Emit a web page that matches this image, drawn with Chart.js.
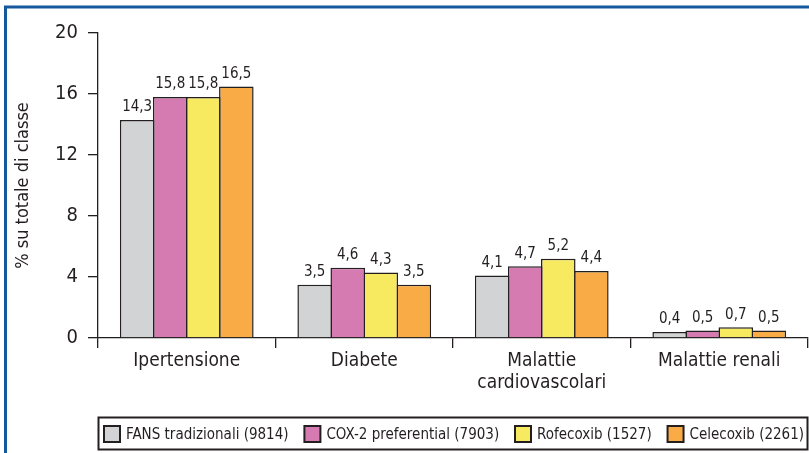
<!DOCTYPE html>
<html>
<head>
<meta charset="utf-8">
<script src="https://cdn.jsdelivr.net/npm/chart.js@4.4.1/dist/chart.umd.min.js"></script>
<style>
  html, body { margin: 0; padding: 0; background: #fff; }
  #wrap { width: 809px; height: 453px; }
</style>
</head>
<body>
<div id="wrap"><canvas id="chart" width="809" height="453"></canvas></div>
<script>
// categories on the x axis
const categories = ["Ipertensione", "Diabete", ["Malattie", "cardiovascolari"], "Malattie renali"];

// percentages per class of drug
const fansTradizionali = [14.3, 3.5, 4.1, 0.4];
const cox2Preferential = [15.8, 4.6, 4.7, 0.5];
const rofecoxib = [15.8, 4.3, 5.2, 0.7];
const celecoxib = [16.5, 3.5, 4.4, 0.5];

const seriesNames = ["FANS tradizionali (9814)", "COX-2 preferential (7903)", "Rofecoxib (1527)", "Celecoxib (2261)"];
const seriesColors = ["#d1d3d4", "#d67bb2", "#f7ea60", "#f9ab45"];

const yTicks = [0, 4, 8, 12, 16, 20];

const FONT = "'Liberation Sans Narrow', 'DejaVu Sans Condensed', 'Liberation Sans', sans-serif";
const INK = "#231f20";

const canvasRef = document.getElementById("chart");

// white page and the blue frame around it
const framePlugin = {
  id: "frame",
  beforeDraw(chart) {
    const ctx = chart.ctx;
    ctx.save();
    ctx.fillStyle = "#fff";
    ctx.fillRect(0, 0, chart.width, chart.height);
    ctx.restore();
  },
  afterDraw(chart) {
    const ctx = chart.ctx;
    ctx.save();
    ctx.strokeStyle = "#15599c";
    ctx.lineWidth = 3;
    ctx.beginPath();
    ctx.moveTo(5.5, chart.height);
    ctx.lineTo(5.5, 7);
    ctx.lineTo(chart.width, 7);
    ctx.stroke();
    ctx.restore();
  }
};

// value printed over each bar, with a decimal comma
const valueLabels = {
  id: "valueLabels",
  afterDatasetsDraw(chart) {
    const ctx = chart.ctx;
    ctx.save();
    ctx.font = "15px " + FONT;
    ctx.fillStyle = INK;
    ctx.textAlign = "center";
    ctx.textBaseline = "bottom";
    chart.data.datasets.forEach(function (ds, i) {
      chart.getDatasetMeta(i).data.forEach(function (bar, j) {
        ctx.fillText(ds.data[j].toFixed(1).replace(".", ","), bar.x, bar.y - 5);
      });
    });
    ctx.restore();
  }
};

// boxed legend along the bottom
const boxLegend = {
  id: "boxLegend",
  afterDraw(chart) {
    const ctx = chart.ctx;
    const left = chart.chartArea.left;
    const right = chart.width - 1;
    const top = 417, h = 32;
    ctx.save();
    ctx.strokeStyle = INK;
    ctx.lineWidth = 2;
    ctx.strokeRect(left + 0.5, top + 0.5, right - left - 1, h);

    ctx.font = "15px " + FONT;
    const sw = 16, gapText = 6;
    const widths = chart.data.datasets.map(ds => ctx.measureText(ds.label).width);
    const inner = widths.reduce((a, w) => a + sw + gapText + w, 0);
    const startX = left + 6, endX = right - 4;
    const gap = (endX - startX - inner) / (widths.length - 1);
    let x = startX;
    const cy = top + h / 2 + 1;
    chart.data.datasets.forEach(function (ds, i) {
      ctx.fillStyle = ds.backgroundColor;
      ctx.fillRect(x, cy - sw / 2, sw, sw);
      ctx.lineWidth = 2;
      ctx.strokeRect(x, cy - sw / 2, sw, sw);
      ctx.fillStyle = INK;
      ctx.textBaseline = "middle";
      ctx.textAlign = "left";
      ctx.fillText(ds.label, x + sw + gapText, cy + 1);
      x += sw + gapText + widths[i] + gap;
    });
    ctx.restore();
  }
};

const seriesData = [fansTradizionali, cox2Preferential, rofecoxib, celecoxib];

let myChart = new Chart(canvasRef, {
  type: "bar",
  data: {
    labels: categories,
    datasets: seriesData.map(function (d, i) {
      return {
        label: seriesNames[i],
        data: d,
        backgroundColor: seriesColors[i],
        borderColor: INK,
        borderWidth: 1.5,
        // bars overlap by one border so neighbours share an edge
        categoryPercentage: 0.745,
        barPercentage: 1.045
      };
    })
  },
  options: {
    responsive: false,
    animation: false,
    devicePixelRatio: 1,
    layout: { padding: { left: 0, top: 33, right: 1, bottom: 48 } },
    plugins: {
      legend: { display: false },
      tooltip: { enabled: false }
    },
    scales: {
      x: {
        offset: true,
        grid: {
          offset: true,
          drawOnChartArea: false,
          tickLength: 10,
          color: INK,
          lineWidth: 1.3
        },
        border: { color: INK, width: 1.3 },
        ticks: {
          color: INK,
          font: { family: FONT, size: 19, lineHeight: 1.15 },
          padding: 2,
          maxRotation: 0,
          autoSkip: false
        },
        afterFit(scale) { scale.height = 67; }
      },
      y: {
        min: 0,
        max: 20,
        afterBuildTicks(scale) { scale.ticks = yTicks.map(v => ({ value: v })); },
        grid: {
          drawOnChartArea: false,
          tickLength: 10,
          color: INK,
          lineWidth: 1.3
        },
        border: { color: INK, width: 1.3 },
        ticks: {
          color: INK,
          font: { family: FONT, size: 20 },
          padding: 10
        },
        title: {
          display: true,
          text: "% su totale di classe",
          color: INK,
          font: { family: FONT, size: 18 },
          padding: { top: 13, bottom: 0 }
        },
        afterFit(scale) { scale.width = 98; }
      }
    }
  },
  plugins: [framePlugin, valueLabels, boxLegend]
});
</script>
</body>
</html>
